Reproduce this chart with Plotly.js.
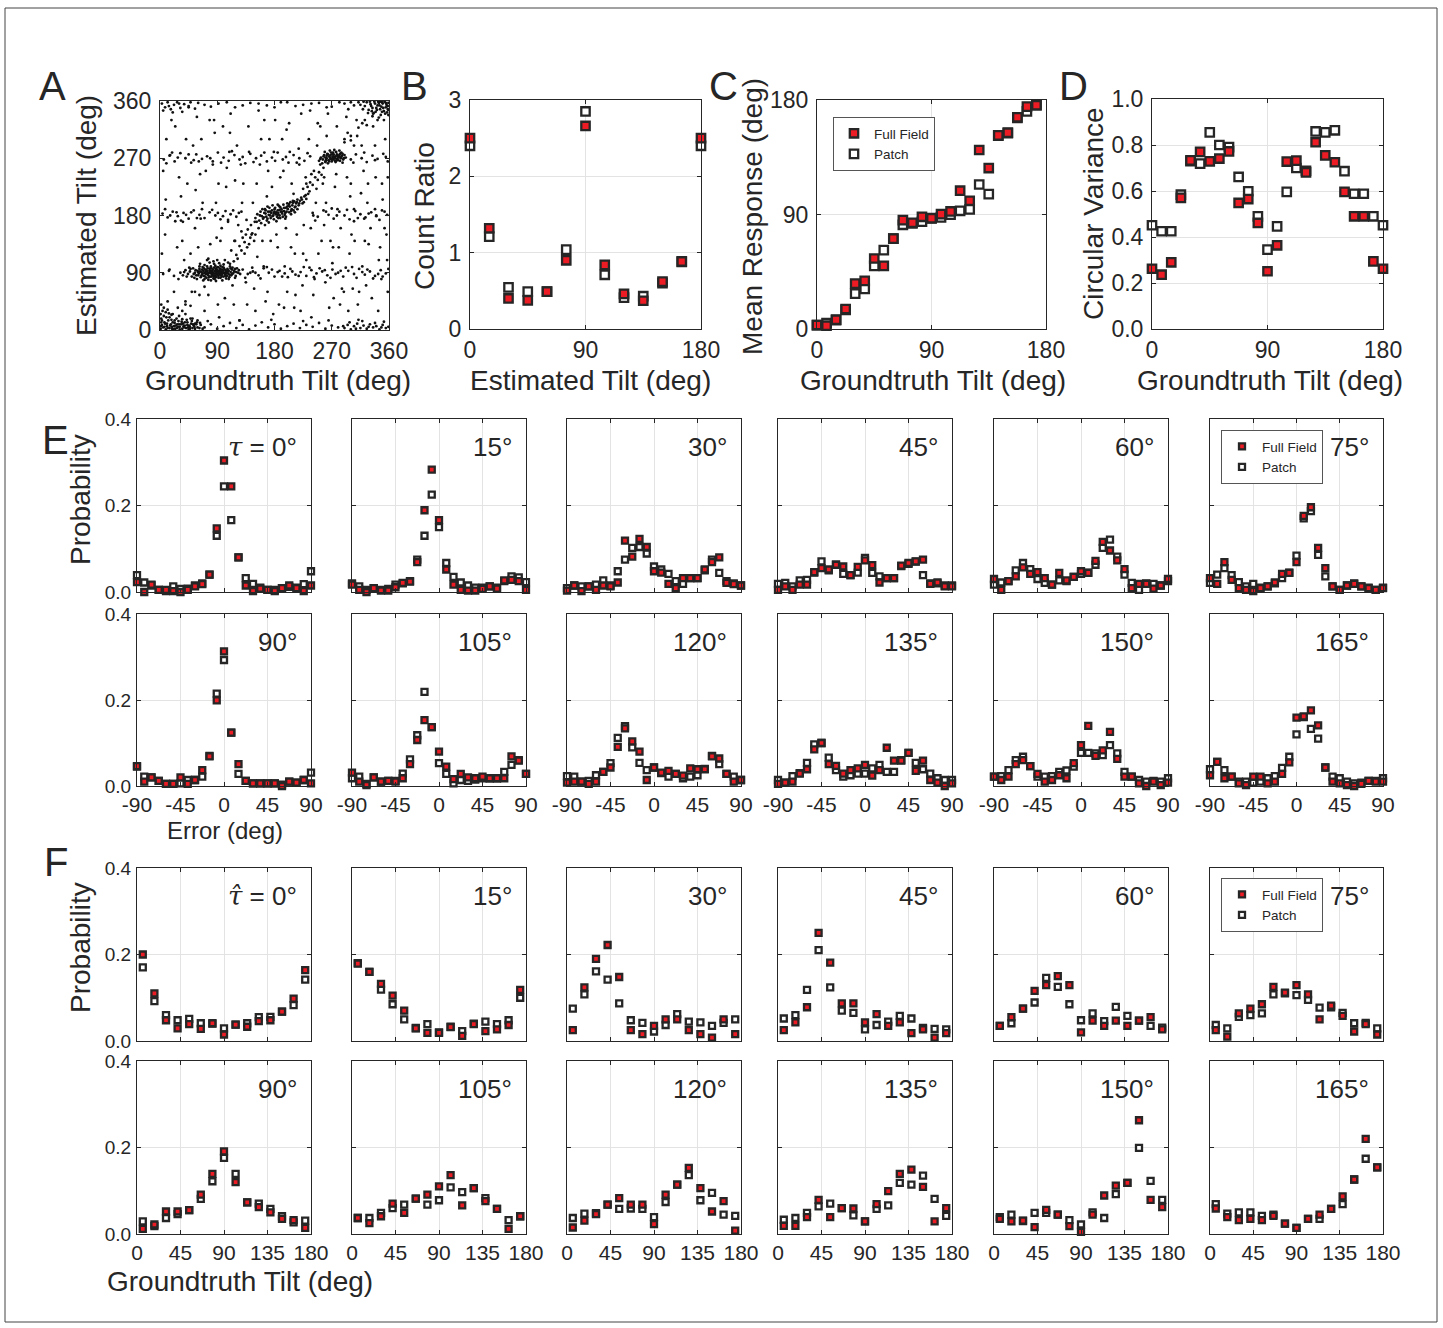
<!DOCTYPE html>
<html><head><meta charset="utf-8">
<script src="https://cdn.plot.ly/plotly-3.0.1.min.js"></script>
<style>body{margin:0;background:#fff}#chart{width:1443px;height:1328px}</style>
</head><body><div id="chart"></div>
<script>
// ---------------- DATA ----------------
// Panel A: scatter of (groundtruth tilt, estimated tilt)
const aBackground=[[12,45],[27,130],[33,210],[41,300],[55,160],[63,245],[70,30],[78,330],[88,200],[95,140],[102,50],[110,310],[118,235],[125,15],[133,120],[140,280],[148,65],[155,345],[163,100],[170,250],[178,25],[185,130],[192,300],[200,60],[207,230],[215,150],[222,340],[230,110],[238,20],[245,200],[252,320],[260,75],[268,140],[275,225],[283,40],[290,300],[298,120],[305,190],[313,60],[320,250],[328,135],[335,320],[343,30],[350,205],[357,110],[5,250],[18,330],[22,60],[36,170],[48,120],[52,290],[67,200],[74,110],[83,260],[91,40],[99,320],[107,170],[114,70],[121,290],[129,200],[137,40],[144,150],[152,230],[159,300],[166,45],[174,140],[181,330],[189,240],[196,100],[204,280],[211,35],[219,260],[226,165],[234,300],[241,55],[249,120],[256,230],[264,340],[271,105],[279,190],[286,65],[294,240],[301,150],[309,330],[316,215],[324,70],[331,160],[339,240],[346,130],[354,300],[8,150],[30,240],[45,350],[60,130],[85,330],[105,255],[128,155],[150,30],[168,210],[195,35],[212,120],[236,345],[258,165],[278,320],[296,30],[318,100],[340,180],[358,240],[15,95],[40,40],[65,300],[92,230],[117,140],[142,90],[172,300],[198,160],[224,70],[247,290],[273,50],[299,210],[322,140],[348,80]];
const aBackground2=[[3,120],[9,205],[16,275],[24,320],[29,80],[35,140],[43,230],[50,60],[58,335],[64,175],[72,250],[79,135],[86,310],[93,20],[97,160],[104,225],[111,340],[116,40],[123,165],[127,260],[135,75],[139,320],[146,200],[153,115],[157,260],[164,330],[169,60],[176,225],[183,150],[187,40],[194,250],[199,315],[206,130],[213,55],[218,285],[225,120],[229,240],[237,160],[243,80],[248,325],[254,140],[261,200],[266,35],[272,130],[277,245],[284,160],[289,60],[293,335],[300,230],[306,140],[311,40],[317,290],[321,175],[327,230],[333,50],[338,290],[344,110],[349,230],[353,160],[358,60],[10,300],[26,185],[38,110],[56,220],[76,55],[89,145],[109,280],[131,230],[149,170],[161,140],[179,280],[203,325],[221,30],[241,180],[262,305],[281,130],[303,65],[326,200],[342,330],[356,150]];
const aBand90=[[5,88],[14,93],[22,85],[130,95],[138,88],[146,92],[155,86],[163,97],[171,90],[180,84],[188,93],[196,89],[205,96],[213,87],[221,91],[230,85],[238,94],[246,89],[255,92],[263,86],[271,95],[280,90],[288,84],[296,93],[305,88],[313,96],[322,87],[330,92],[338,85],[347,94],[355,89],[134,82],[168,99],[201,83],[235,98],[268,82],[302,99],[335,81],[251,97],[318,91],[145,98],[158,81],[176,95],[192,84],[208,92],[226,99],[242,83],[259,94],[276,88],[292,98],[309,82],[326,95],[343,88],[359,96],[150,90],[185,91],[218,85],[284,93],[350,84]];
const aBand180=[[4,183],[12,177],[20,186],[28,179],[37,184],[45,175],[53,188],[62,181],[70,176],[78,185],[87,180],[95,174],[103,187],[111,182],[120,178],[128,186],[136,173],[240,184],[248,178],[257,188],[265,181],[273,175],[282,186],[290,180],[298,174],[307,187],[315,182],[323,177],[332,185],[340,179],[349,188],[357,181],[33,172],[66,190],[99,179],[270,191],[305,171],[338,190],[8,190],[24,171],[41,181],[58,176],[82,189],[107,173],[124,184],[244,172],[261,186],[278,180],[294,189],[311,176],[328,183],[345,173],[353,186],[16,180],[49,185],[91,184],[115,188]];
const aBand270=[[6,268],[15,274],[23,265],[32,278],[40,270],[49,263],[57,276],[66,269],[74,273],[83,265],[91,279],[100,271],[108,266],[117,275],[125,268],[134,262],[142,277],[151,270],[159,274],[168,265],[176,271],[185,279],[193,268],[202,263],[210,275],[219,270],[227,266],[236,273],[300,268],[308,276],[317,270],[325,264],[334,274],[342,269],[351,277],[358,265],[10,262],[28,271],[45,276],[61,265],[79,270],[96,263],[113,281],[130,272],[147,264],[164,279],[181,266],[198,272],[215,263],[232,278],[304,263],[321,279],[338,267],[355,272],[19,279],[53,267]];
const aBandBottom=[[70,4],[80,9],[90,2],[100,6],[110,11],[120,3],[130,8],[140,1],[150,7],[160,12],[170,4],[180,9],[190,2],[200,6],[210,10],[220,3],[230,8],[240,5],[250,11],[260,2],[270,7],[280,4],[75,14],[125,15],[175,16],[225,14],[265,15],[290,3],[295,8],[300,1],[305,6],[310,10],[315,3],[320,7],[325,2],[330,9],[335,4],[340,6],[345,1],[350,8],[355,3],[359,5],[298,12],[318,14],[338,11],[352,13],[288,6],[308,2],[328,5],[348,4],[312,16]];
const aCornerLow=[[1,2],[3,8],[5,4],[7,12],[9,1],[11,6],[13,15],[15,3],[17,9],[19,5],[21,1],[23,11],[25,7],[27,3],[29,14],[31,5],[33,9],[35,2],[37,6],[39,12],[41,3],[43,8],[45,1],[47,5],[49,10],[51,3],[53,7],[55,2],[57,9],[59,4],[2,18],[6,22],[10,20],[14,26],[4,30],[8,10],[12,3],[18,16],[22,6],[26,18],[30,9],[34,13],[38,4],[42,16],[46,7],[50,14],[54,5],[58,12],[62,3],[64,8],[1,6],[2,12],[16,7],[24,2],[36,10],[44,4],[48,18],[52,9],[28,5],[20,12],[3,15],[7,5],[11,10],[15,20],[19,2],[23,15],[27,9],[31,1],[35,17],[39,7],[43,12],[47,2],[51,18],[55,10],[59,15],[63,11],[67,2],[6,35],[2,40],[12,32],[1,25],[18,24],[9,28],[30,22],[40,25]];
const aCornerHigh=[[322,352],[325,358],[328,346],[331,355],[334,349],[337,359],[339,343],[342,353],[344,357],[346,347],[348,351],[350,356],[352,344],[353,359],[355,350],[356,354],[358,347],[359,357],[358,352],[343,359],[336,341],[347,338],[354,340],[330,359],[340,349],[351,349],[357,342],[345,353],[333,344],[349,358],[300,358],[315,354],[319,347],[327,341],[332,352],[338,356],[341,346],[346,359],[349,343],[355,357],[359,346],[320,359],[334,336],[344,334],[352,330],[359,338]];
const aBandTop=[[3,356],[8,350],[12,358],[17,347],[22,354],[27,358],[32,349],[38,355],[45,352],[60,357],[80,351],[105,358],[130,353],[155,356],[180,350],[200,358],[225,354],[250,357],[270,351],[290,356],[305,353],[312,358],[5,345],[14,352],[20,342],[30,356],[35,343],[48,358],[55,348],[70,354],[92,356],[118,350],[142,357],[168,353],[190,358],[213,352],[238,356],[262,350],[282,358],[296,347]];
const aCluster90=[[32,90],[36,86],[40,94],[44,88],[47,92],[50,84],[52,97],[55,90],[57,86],[59,93],[61,89],[62,96],[64,83],[65,91],[66,87],[67,99],[68,93],[69,85],[70,90],[71,95],[72,88],[73,82],[74,92],[75,97],[76,86],[77,90],[78,94],[79,84],[80,89],[80,100],[81,92],[82,87],[83,95],[84,81],[84,90],[85,98],[86,86],[86,93],[87,89],[88,96],[88,83],[89,91],[90,87],[90,94],[91,99],[92,85],[92,90],[93,93],[94,88],[94,97],[95,82],[96,91],[96,86],[97,95],[98,89],[99,93],[100,84],[100,98],[101,90],[102,87],[103,94],[104,91],[105,85],[106,96],[107,89],[108,93],[109,87],[110,100],[111,91],[112,86],[113,95],[115,89],[117,92],[119,85],[121,97],[123,90],[126,88],[63,104],[70,102],[78,106],[85,104],[93,105],[100,103],[107,106],[58,80],[68,78],[76,79],[88,77],[98,78],[108,80],[72,92],[82,92],[89,88],[95,92],[103,89],[79,97],[87,101],[60,91],[66,95],[74,88],[83,86],[91,93],[97,87],[105,92],[114,98],[118,82],[48,96],[54,82],[38,91],[42,84],[46,98],[53,88],[56,94],[60,86],[63,92],[67,89],[69,97],[71,84],[73,94],[75,89],[77,83],[79,92],[81,97],[83,89],[85,84],[87,93],[89,98],[91,86],[93,90],[95,95],[97,84],[99,90],[101,96],[103,85],[105,89],[107,94],[109,83],[111,97],[113,88],[116,93],[120,91],[124,94],[65,85],[74,100],[86,80],[95,101],[104,81],[118,96],[81,84],[92,82],[98,99],[70,80],[84,108],[62,100],[110,104],[76,112],[90,110],[102,110]];
const aCluster180=[[150,176],[153,182],[156,172],[158,186],[160,179],[162,175],[164,184],[165,190],[167,178],[168,172],[170,186],[171,181],[172,192],[174,176],[175,184],[176,188],[178,180],[179,174],[180,186],[181,192],[182,182],[184,178],[185,188],[186,184],[187,195],[188,180],[190,186],[191,190],[192,183],[194,197],[195,187],[196,181],[198,192],[199,186],[200,199],[201,190],[203,185],[204,194],[205,201],[207,190],[208,196],[210,188],[211,202],[213,194],[214,199],[216,205],[218,196],[220,203],[222,208],[224,199],[227,210],[230,206],[233,214],[177,196],[183,171],[189,176],[197,175],[161,190],[169,194],[206,182],[212,185],[193,178],[185,181],[179,184],[173,180],[188,189],[202,195],[209,200],[166,183],[152,170],[157,180],[163,177],[166,188],[169,175],[173,186],[177,179],[180,190],[183,185],[186,176],[189,193],[192,186],[195,192],[197,184],[200,194],[203,198],[206,187],[209,203],[212,193],[215,201],[219,199],[223,205],[226,201],[229,212],[159,168],[171,169],[185,197],[198,178],[216,190],[235,218]];
const aDiagonal=[[120,118],[128,125],[133,138],[137,130],[142,145],[145,152],[148,140],[130,145],[138,158],[143,165],[125,132],[118,140],[112,125],[135,150],[232,225],[236,232],[240,228],[244,240],[248,236],[250,248],[254,244],[257,255],[242,250],[246,222],[252,260],[238,245],[258,240],[20,25],[28,35],[40,45],[48,38],[55,60],[62,55],[290,295],[300,305],[312,318],[325,322],[335,340],[305,290],[295,310],[318,325],[150,150],[155,160],[122,112],[116,108],[260,265],[225,222],[230,230],[210,214],[165,165],[140,135],[300,298],[310,305],[322,330],[80,78],[70,68],[35,30]];
const aCluster270=[[250,266],[253,271],[256,268],[258,275],[260,264],[262,270],[263,277],[265,267],[266,273],[268,269],[269,279],[270,265],[271,272],[272,268],[273,276],[274,270],[275,266],[276,273],[277,280],[278,269],[279,274],[280,267],[281,272],[283,277],[284,270],[286,274],[288,268],[290,275],[292,271],[264,262],[282,282],[267,282],[259,280],[287,263],[255,262],[271,276],[276,264],[262,274],[285,279],[274,283],[252,269],[257,273],[261,267],[264,276],[267,271],[270,268],[273,273],[275,270],[278,276],[280,271],[283,266],[285,272],[289,270],[268,275],[260,271],[277,266],[282,275],[266,265],[272,279],[287,277]];

// Panel B
const bTilt=[0,15,30,45,60,75,90,105,120,135,150,165,180];
const bFull=[2.5,1.32,0.40,0.375,0.49,0.90,2.66,0.84,0.46,0.37,0.62,0.885,2.5];
const bPatch=[2.4,1.21,0.545,0.49,0.49,1.04,2.85,0.71,0.41,0.43,0.60,0.88,2.4];
// Panel C
const cTilt=[0,7.5,15,22.5,30,37.5,45,52.5,60,67.5,75,82.5,90,97.5,105,112.5,120,127.5,135,142.5,150,157.5,165,172.5];
const cFull=[3.1,2.6,7.3,15.7,35.7,37.8,55.4,49.6,71,85.6,83.5,88.2,87.1,90.3,92.4,108.7,100.8,140.7,126.5,152.2,154.3,166.4,174.8,175.9];
const cPatch=[3.1,4.7,7,15,27.8,31.5,49.6,62,71,81.9,83,84.3,87,87.7,89.8,92.9,94,113.6,106,152,154,166,171,176];
// Panel D
const dTilt=[0,7.5,15,22.5,30,37.5,45,52.5,60,67.5,75,82.5,90,97.5,105,112.5,120,127.5,135,142.5,150,157.5,165,172.5,180];
const dFull=[0.262,0.236,0.29,0.57,0.733,0.77,0.729,0.741,0.772,0.548,0.565,0.461,0.251,0.364,0.728,0.732,0.681,0.812,0.755,0.725,0.596,0.49,0.49,0.294,0.262];
const dPatch=[0.451,0.425,0.425,0.584,0.73,0.719,0.855,0.80,0.791,0.661,0.599,0.49,0.345,0.446,0.596,0.70,0.688,0.859,0.855,0.864,0.686,0.588,0.588,0.49,0.451];

// Panel E: error distributions for groundtruth tilt tau
const eErr=[-90,-82.5,-75,-67.5,-60,-52.5,-45,-37.5,-30,-22.5,-15,-7.5,0,7.5,15,22.5,30,37.5,45,52.5,60,67.5,75,82.5,90];
const eTickVals=[-90,-45,0,45,90];
const eTickText=['-90','-45','0','45','90'];
const eLabels=['<span style="font-family:DejaVu Serif"><i>τ</i></span> = 0°','15°','30°','45°','60°','75°','90°','105°','120°','135°','150°','165°'];
const eFull_0=[0.023,0,0.017,0.005,0.005,0.002,0,0.005,0.013,0.018,0.04,0.147,0.304,0.244,0.08,0.015,0.002,0.008,0.005,0.002,0.009,0.015,0.009,0.002,0.015];
const ePatch_0=[0.039,0.022,0.015,0.005,0.002,0.013,0.007,0.008,0.015,0.02,0.04,0.13,0.244,0.166,0.08,0.032,0.019,0.01,0.005,0.005,0.009,0.012,0.01,0.018,0.048];
const eFull_15=[0.017,0.005,0,0.009,0.003,0.003,0.011,0.021,0.024,0.069,0.189,0.283,0.166,0.052,0.017,0.005,0.003,0.003,0.007,0.013,0.008,0.027,0.028,0.025,0.005];
const ePatch_15=[0.02,0.013,0.005,0.009,0.005,0.007,0.017,0.02,0.025,0.075,0.13,0.225,0.15,0.067,0.035,0.022,0.015,0.01,0.01,0.013,0.01,0.025,0.036,0.034,0.023];
const eFull_30=[0.003,0.015,0.002,0.013,0.005,0.015,0.013,0.022,0.119,0.082,0.123,0.104,0.048,0.045,0.019,0.009,0.032,0.032,0.032,0.052,0.069,0.08,0.021,0.018,0.015];
const ePatch_30=[0.009,0.015,0.013,0.013,0.017,0.027,0.015,0.048,0.075,0.102,0.104,0.089,0.059,0.052,0.042,0.025,0.019,0.032,0.032,0.05,0.075,0.044,0.025,0.02,0.015];
const eFull_45=[0.005,0.013,0.005,0.017,0.017,0.046,0.055,0.052,0.063,0.059,0.039,0.058,0.073,0.062,0.022,0.032,0.032,0.061,0.067,0.071,0.075,0.019,0.022,0.013,0.013];
const ePatch_45=[0.019,0.021,0.013,0.027,0.028,0.045,0.071,0.05,0.063,0.042,0.039,0.045,0.079,0.044,0.036,0.032,0.032,0.06,0.065,0.07,0.039,0.02,0.02,0.015,0.015];
const eFull_60=[0.03,0.005,0.025,0.036,0.057,0.042,0.046,0.032,0.017,0.044,0.027,0.035,0.048,0.044,0.072,0.116,0.096,0.073,0.053,0.009,0.019,0.019,0.008,0.015,0.03];
const ePatch_60=[0.017,0.022,0.025,0.05,0.067,0.053,0.03,0.021,0.017,0.027,0.025,0.035,0.042,0.045,0.063,0.102,0.121,0.082,0.04,0.021,0.005,0.02,0.019,0.015,0.025];
const eFull_75=[0.032,0.019,0.069,0.028,0.009,0.005,0.002,0.009,0.013,0.022,0.042,0.044,0.069,0.176,0.196,0.102,0.055,0.013,0.005,0.015,0.019,0.013,0.009,0.005,0.009];
const ePatch_75=[0.021,0.04,0.055,0.039,0.023,0.013,0.019,0.01,0.013,0.02,0.032,0.045,0.084,0.17,0.187,0.086,0.036,0.013,0.005,0.015,0.02,0.013,0.01,0.005,0.01];
const eFull_90=[0.046,0.01,0.02,0.012,0.005,0.005,0.02,0.005,0.014,0.037,0.069,0.199,0.313,0.124,0.051,0.012,0.006,0.006,0.006,0.006,0,0.01,0.008,0.014,0.006];
const ePatch_90=[0.045,0.022,0.02,0.012,0.005,0.005,0.006,0.014,0.014,0.022,0.07,0.215,0.293,0.124,0.028,0.012,0.006,0.006,0.006,0.006,0.003,0.01,0.008,0.014,0.031];
const eFull_105=[0.031,0.01,0.002,0.02,0.01,0.012,0.01,0.018,0.051,0.107,0.153,0.137,0.08,0.045,0.016,0.028,0.02,0.018,0.022,0.018,0.018,0.018,0.069,0.059,0.028];
const ePatch_105=[0.018,0.022,0.005,0.02,0.01,0.012,0.012,0.029,0.062,0.118,0.219,0.137,0.053,0.028,0.006,0.014,0.012,0.015,0.018,0.018,0.018,0.033,0.049,0.06,0.028];
const eFull_120=[0.008,0.01,0.01,0.005,0.01,0.033,0.043,0.091,0.134,0.104,0.08,0.014,0.043,0.031,0.035,0.028,0.024,0.041,0.039,0.039,0.069,0.064,0.028,0.01,0.014];
const ePatch_120=[0.023,0.022,0.01,0.012,0.025,0.033,0.053,0.112,0.139,0.09,0.054,0.037,0.043,0.03,0.022,0.028,0.018,0.022,0.025,0.04,0.07,0.051,0.028,0.022,0.014];
const eFull_135=[0.005,0.008,0.01,0.029,0.039,0.085,0.1,0.051,0.047,0.029,0.037,0.041,0.049,0.024,0.037,0.089,0.059,0.059,0.077,0.035,0.059,0.014,0.008,0,0.006];
const ePatch_135=[0.014,0.008,0.023,0.03,0.054,0.097,0.1,0.066,0.037,0.022,0.025,0.029,0.029,0.041,0.049,0.033,0.033,0.06,0.077,0.054,0.039,0.029,0.018,0.014,0.014];
const eFull_150=[0.022,0.014,0.022,0.051,0.06,0.046,0.028,0.01,0.014,0.025,0.018,0.053,0.095,0.14,0.07,0.083,0.126,0.063,0.022,0.022,0.006,0,0.01,0.002,0.008];
const ePatch_150=[0.022,0.023,0.037,0.06,0.068,0.046,0.022,0.022,0.023,0.033,0.036,0.045,0.077,0.077,0.076,0.072,0.095,0.076,0.033,0.022,0.014,0.01,0.012,0.01,0.018];
const eFull_165=[0.025,0.056,0.018,0.022,0.006,0.002,0.022,0.022,0.006,0.01,0.028,0.055,0.159,0.162,0.176,0.141,0.043,0.01,0.006,0.002,0,0.005,0.012,0.01,0.01];
const ePatch_165=[0.039,0.056,0.037,0.022,0.01,0.01,0.008,0.01,0.018,0.023,0.042,0.068,0.12,0.16,0.133,0.11,0.043,0.022,0.018,0.01,0.006,0.008,0.012,0.012,0.018];

// Panel F: groundtruth distributions for estimated tilt tau-hat
const fTilt=[6,18,30,42,54,66,78,90,102,114,126,138,150,162,174];
const fTickVals=[0,45,90,135,180];
const fLabels=['<span style="font-family:DejaVu Serif"><i>τ̂</i></span> = 0°','15°','30°','45°','60°','75°','90°','105°','120°','135°','150°','165°'];
const fFull_0=[0.2,0.11,0.048,0.029,0.039,0.028,0.041,0.015,0.038,0.033,0.046,0.048,0.068,0.098,0.164];
const fPatch_0=[0.17,0.092,0.06,0.048,0.051,0.041,0.04,0.029,0.038,0.041,0.055,0.056,0.068,0.083,0.142];
const fFull_15=[0.179,0.16,0.132,0.105,0.07,0.029,0.019,0.019,0.032,0.012,0.039,0.023,0.027,0.037,0.118];
const fPatch_15=[0.18,0.16,0.119,0.085,0.05,0.03,0.039,0.02,0.033,0.023,0.04,0.045,0.039,0.048,0.1];
const fFull_30=[0.025,0.124,0.19,0.222,0.148,0.025,0.016,0.035,0.05,0.05,0.025,0.016,0.008,0.05,0.016];
const fPatch_30=[0.075,0.108,0.161,0.142,0.087,0.048,0.042,0.022,0.037,0.062,0.045,0.043,0.035,0.042,0.05];
const fFull_45=[0.025,0.043,0.078,0.25,0.181,0.087,0.087,0.043,0.062,0.035,0.043,0.018,0.027,0.008,0.018];
const fPatch_45=[0.052,0.06,0.118,0.21,0.124,0.07,0.065,0.027,0.037,0.045,0.058,0.052,0.03,0.028,0.027];
const fFull_60=[0.035,0.055,0.075,0.116,0.129,0.15,0.129,0.02,0.047,0.035,0.047,0.035,0.047,0.055,0.027];
const fPatch_60=[0.035,0.041,0.075,0.089,0.146,0.125,0.085,0.048,0.064,0.046,0.079,0.058,0.047,0.035,0.031];
const fFull_75=[0.025,0.01,0.064,0.075,0.085,0.125,0.112,0.129,0.108,0.05,0.082,0.058,0.022,0.039,0.015];
const fPatch_75=[0.037,0.029,0.056,0.06,0.064,0.108,0.11,0.106,0.095,0.077,0.078,0.065,0.041,0.042,0.029];
const fFull_90=[0.012,0.022,0.052,0.052,0.055,0.091,0.139,0.191,0.12,0.073,0.062,0.05,0.035,0.032,0.014];
const fPatch_90=[0.029,0.018,0.037,0.046,0.055,0.081,0.122,0.176,0.139,0.073,0.07,0.058,0.041,0.027,0.031];
const fFull_105=[0.037,0.025,0.041,0.07,0.049,0.082,0.091,0.11,0.136,0.066,0.106,0.076,0.058,0.012,0.041];
const fPatch_105=[0.037,0.037,0.049,0.06,0.068,0.082,0.068,0.078,0.108,0.097,0.106,0.083,0.058,0.032,0.041];
const fFull_120=[0.015,0.031,0.046,0.068,0.083,0.068,0.068,0.023,0.091,0.114,0.153,0.106,0.052,0.076,0.008];
const fPatch_120=[0.037,0.047,0.048,0.068,0.058,0.059,0.058,0.039,0.074,0.114,0.136,0.078,0.095,0.045,0.042];
const fFull_135=[0.019,0.019,0.039,0.079,0.039,0.06,0.059,0.029,0.069,0.099,0.139,0.149,0.109,0.029,0.06];
const fPatch_135=[0.033,0.037,0.049,0.064,0.07,0.06,0.043,0.029,0.058,0.066,0.118,0.114,0.135,0.081,0.042];
const fFull_150=[0.035,0.029,0.031,0.016,0.056,0.045,0.018,0.005,0.045,0.089,0.112,0.118,0.263,0.079,0.062];
const fPatch_150=[0.039,0.045,0.03,0.049,0.049,0.045,0.032,0.022,0.05,0.037,0.092,0.118,0.199,0.123,0.079];
const fFull_165=[0.059,0.039,0.032,0.035,0.032,0.042,0.024,0.014,0.035,0.045,0.058,0.087,0.126,0.22,0.154];
const fPatch_165=[0.069,0.047,0.05,0.05,0.042,0.045,0.024,0.014,0.035,0.035,0.058,0.069,0.126,0.174,0.154];

const eFullSets=[eFull_0,eFull_15,eFull_30,eFull_45,eFull_60,eFull_75,eFull_90,eFull_105,eFull_120,eFull_135,eFull_150,eFull_165];
const ePatchSets=[ePatch_0,ePatch_15,ePatch_30,ePatch_45,ePatch_60,ePatch_75,ePatch_90,ePatch_105,ePatch_120,ePatch_135,ePatch_150,ePatch_165];
const fFullSets=[fFull_0,fFull_15,fFull_30,fFull_45,fFull_60,fFull_75,fFull_90,fFull_105,fFull_120,fFull_135,fFull_150,fFull_165];
const fPatchSets=[fPatch_0,fPatch_15,fPatch_30,fPatch_45,fPatch_60,fPatch_75,fPatch_90,fPatch_105,fPatch_120,fPatch_135,fPatch_150,fPatch_165];

// ---------------- LAYOUT ----------------
const W=1443,H=1328;
const px=x=>x/W, py=y=>1-y/H;
const FONT='"Liberation Sans", Arial, Helvetica, sans-serif';
const INK='#262626', RED='#ed1c24', EDGE='#262626';
const layout={width:W,height:H,margin:{l:0,r:0,t:0,b:0},paper_bgcolor:'#fff',plot_bgcolor:'#fff',
  hovermode:false,font:{family:FONT,color:INK},annotations:[],shapes:[]};
const traces=[];
let n=0;
function axes(x0,x1,y0,y1,xo,yo){
  n++;
  const xa=n===1?'xaxis':'xaxis'+n, ya=n===1?'yaxis':'yaxis'+n;
  const xr=n===1?'x':'x'+n, yr=n===1?'y':'y'+n;
  const base={showline:true,linecolor:INK,linewidth:1,mirror:'ticks',ticks:'inside',ticklen:4,tickcolor:INK,
    showgrid:true,gridcolor:'#e3e3e3',gridwidth:1,zeroline:false,fixedrange:true,
    tickfont:{size:23,family:FONT,color:INK}};
  layout[xa]=Object.assign({},base,{domain:[px(x0),px(x1)],anchor:yr,ticklabelstandoff:0},xo);
  layout[ya]=Object.assign({},base,{domain:[py(y1),py(y0)],anchor:xr,ticklabelstandoff:3},yo);
  return {xr,yr};
}
function pair(ax,xs,full,patch,size,lw,legendId){
  const show=!!legendId;
  traces.push({type:'scatter',mode:'markers',x:xs,y:patch,xaxis:ax.xr,yaxis:ax.yr,name:'Patch',legendrank:2,
    marker:{symbol:'square',size:size,color:'#fff',line:{color:EDGE,width:lw}},cliponaxis:false,
    showlegend:show,legend:legendId||'legend'});
  traces.push({type:'scatter',mode:'markers',x:xs,y:full,xaxis:ax.xr,yaxis:ax.yr,name:'Full Field',legendrank:1,
    marker:{symbol:'square',size:size,color:RED,line:{color:EDGE,width:lw}},cliponaxis:false,
    showlegend:show,legend:legendId||'legend'});
}
function ann(text,x,y,size,o){
  layout.annotations.push(Object.assign({text:text,x:px(x),y:py(y),xref:'paper',yref:'paper',showarrow:false,
    font:{size:size,family:FONT,color:INK},xanchor:'center',yanchor:'middle'},o||{}));
}
function legendBox(x,y){
  return {x:px(x),y:py(y),xanchor:'left',yanchor:'top',bordercolor:'#555',borderwidth:1,bgcolor:'#fff',
    font:{size:13.5,family:FONT,color:INK},itemwidth:30,tracegroupgap:0};
}

// Panel A
const aPts=[].concat(aBackground,aBackground2,aBand90,aBand180,aBand270,aBandBottom,aCornerLow,aCornerHigh,aBandTop,aCluster90,aCluster180,aDiagonal,aCluster270);
const axA=axes(160,389,101,330,{range:[0,360],tickvals:[0,90,180,270,360],showgrid:false},{range:[0,360],tickvals:[0,90,180,270,360],showgrid:false});
traces.push({type:'scatter',mode:'markers',x:aPts.map(p=>p[0]),y:aPts.map(p=>p[1]),xaxis:axA.xr,yaxis:axA.yr,
  marker:{size:2.8,color:'#111'},showlegend:false});

// Panel B
const axB=axes(470,701,100,329,{range:[0,180],tickvals:[0,90,180]},{range:[0,3],tickvals:[0,1,2,3]});
pair(axB,bTilt,bFull,bPatch,8.4,2.3,null);
// Panel C
const axC=axes(817,1046,100,329,{range:[0,180],tickvals:[0,90,180]},{range:[0,180],tickvals:[0,90,180]});
pair(axC,cTilt,cFull,cPatch,8.4,2.3,'legend');
// Panel D
const axD=axes(1152,1383,99,329,{range:[0,180],tickvals:[0,90,180]},{range:[0,1],tickvals:[0,0.2,0.4,0.6,0.8,1],ticktext:['0.0','0.2','0.4','0.6','0.8','1.0']});
pair(axD,dTilt,dFull,dPatch,8.4,2.3,null);

layout.legend=legendBox(833,117);
layout.legend2=legendBox(1221,430);
layout.legend3=legendBox(1221,878);

// E and F grids
const colX=[[137,311],[352,526],[567,741],[778,952],[994,1168],[1210,1383]];
const eRows=[[419,592],[614,786]];
const fRows=[[868,1041],[1061,1234]];
const TF={size:21,family:FONT,color:INK};
const TFY={size:19,family:FONT,color:INK};
const probY={range:[0,0.4],tickvals:[0,0.2,0.4],ticktext:['0.0','0.2','0.4'],tickfont:TFY,ticklabelstandoff:1};
for(let k=0;k<12;k++){
  const r=Math.floor(k/6), c=k%6, [x0,x1]=colX[c], [y0,y1]=eRows[r];
  const ax=axes(x0,x1,y0,y1,{range:[-90,90],tickvals:eTickVals,ticktext:eTickText,showticklabels:r===1,tickfont:TF},
    Object.assign({},probY,{showticklabels:c===0}));
  pair(ax,eErr,eFullSets[k],ePatchSets[k],6,2.3,k===5?'legend2':null);
  ann(eLabels[k],x1-12,y0+28,26,{xanchor:'right'});
}
for(let k=0;k<12;k++){
  const r=Math.floor(k/6), c=k%6, [x0,x1]=colX[c], [y0,y1]=fRows[r];
  const ax=axes(x0,x1,y0,y1,{range:[0,180],tickvals:fTickVals,showticklabels:r===1,tickfont:TF},
    Object.assign({},probY,{showticklabels:c===0}));
  pair(ax,fTilt,fFullSets[k],fPatchSets[k],6,2.3,k===5?'legend3':null);
  ann(fLabels[k],x1-12,y0+28,26,{xanchor:'right'});
}

// Panel letters
ann('A',52,86,40); ann('B',414,86,40); ann('C',723,86,40); ann('D',1073,86,40);
ann('E',56,440,40); ann('F',56,862,40);
// Axis titles
ann('Estimated Tilt (deg)',86,216,28,{textangle:-90});
ann('Groundtruth Tilt (deg)',278,380,28);
ann('Count Ratio',424,216,28,{textangle:-90});
ann('Estimated Tilt (deg)',590,380,28);
ann('Mean Response (deg)',752,216,28,{textangle:-90});
ann('Groundtruth Tilt (deg)',933,380,28);
ann('Circular Variance',1093,214,28,{textangle:-90});
ann('Groundtruth Tilt (deg)',1270,380,28);
ann('Probability',80,500,28,{textangle:-90});
ann('Error (deg)',225,830,24);
ann('Probability',80,948,28,{textangle:-90});
ann('Groundtruth Tilt (deg)',240,1281,28);

// Figure frame
layout.shapes.push({type:'rect',xref:'paper',yref:'paper',x0:px(5),x1:px(1437),y0:py(1322),y1:py(8),line:{color:'#444',width:1}});

Plotly.newPlot('chart',traces,layout,{displayModeBar:false,staticPlot:true});
</script></body></html>
